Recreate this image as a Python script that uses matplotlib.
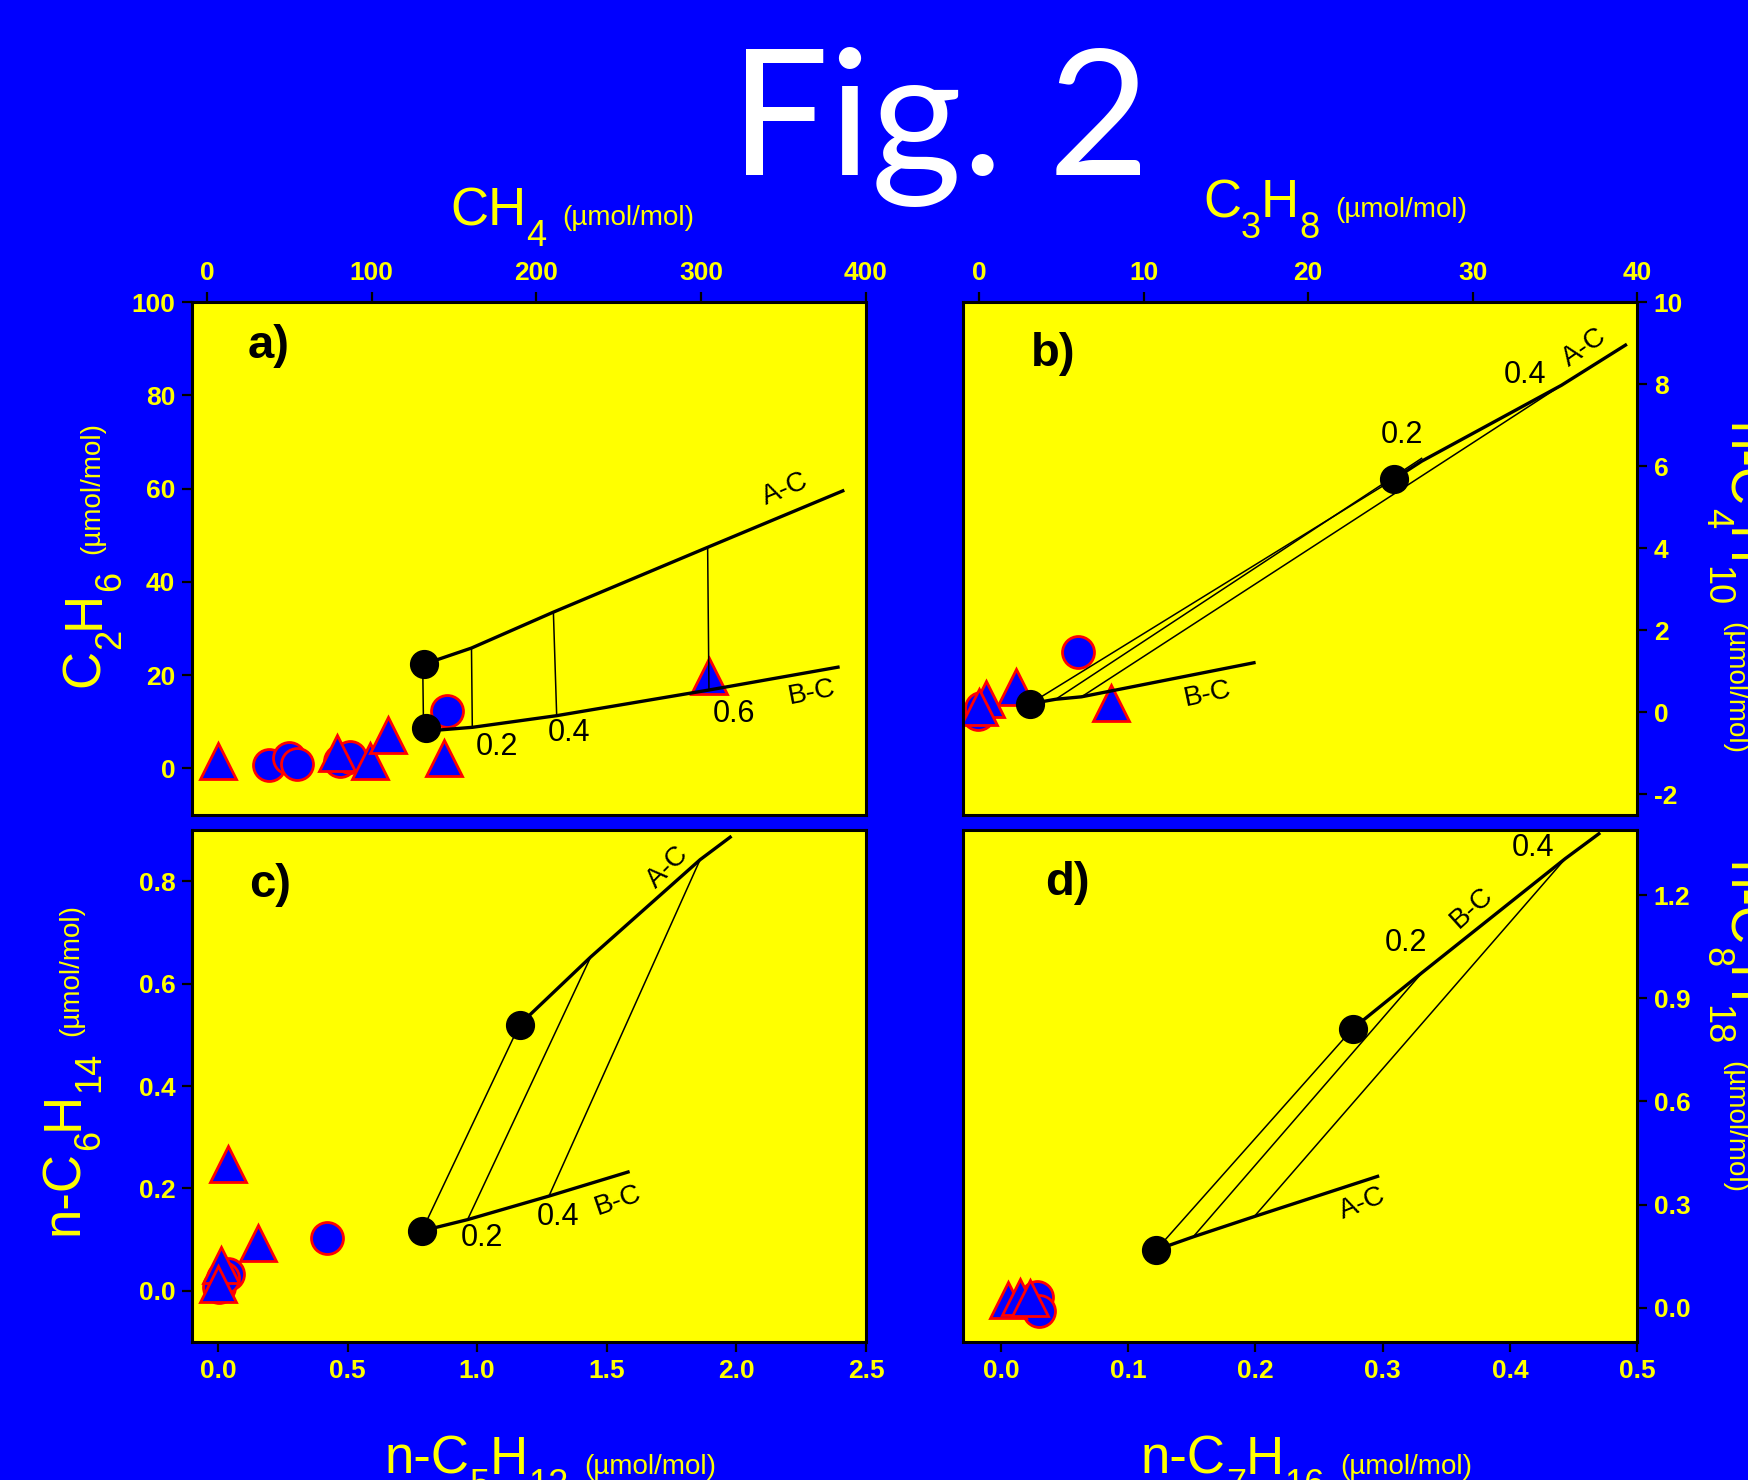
import matplotlib
matplotlib.use("Agg")
import matplotlib.pyplot as plt
from matplotlib.ticker import FixedLocator, FormatStrFormatter

# ---------------- data ----------------
# panel a : CH4 (x) vs C2H6 (y)
a_circ_x = [38, 50, 55, 81, 87, 146]
a_circ_y = [0.8, 2.3, 1.0, 1.5, 2.5, 12.3]
a_tri_x = [7, 79, 99, 110, 144, 305]
a_tri_y = [1.5, 3.4, 1.5, 7.1, 2.3, 19.9]
a_end_x = [131.5, 133.0]
a_end_y = [22.3, 8.6]
a_ac_x = [131.5, 160.6, 210.3, 303.9, 385.9]
a_ac_y = [22.3, 25.8, 33.5, 47.4, 59.5]
a_bc_x = [133.0, 161.1, 212.3, 304.7, 383.0]
a_bc_y = [8.0, 8.8, 11.3, 16.8, 21.7]
a_tie_x1 = [131.0, 160.6, 210.3, 303.9]
a_tie_y1 = [22.3, 25.8, 33.5, 47.4]
a_tie_x2 = [131.5, 161.1, 212.3, 304.7]
a_tie_y2 = [8.6, 8.8, 11.3, 16.8]
a_lab = ["0.2", "0.4", "0.6"]
a_lab_x = [176, 220, 320]
a_lab_y = [4.5, 7.5, 11.7]

# panel b : C3H8 (x) vs n-C4H10 (y)
b_circ_x = [6.0, -0.1, 0.1]
b_circ_y = [1.47, -0.05, 0.1]
b_tri_x = [2.2, 0.4, 0.0, 8.0]
b_tri_y = [0.62, 0.32, 0.12, 0.23]
b_end_x = [25.2, 3.07]
b_end_y = [5.68, 0.21]
b_ac_x = [25.2, 26.9, 35.4, 39.3]
b_ac_y = [5.68, 6.12, 7.97, 8.95]
b_bc_x = [3.07, 4.64, 6.21, 16.7]
b_bc_y = [0.21, 0.32, 0.38, 1.21]
b_tie_x1 = [3.07, 4.64, 6.21]
b_tie_y1 = [0.21, 0.32, 0.38]
b_tie_x2 = [25.2, 26.9, 35.4]
b_tie_y2 = [5.68, 6.19, 7.97]
b_lab = ["0.2", "0.4"]
b_lab_x = [25.7, 33.2]
b_lab_y = [6.77, 8.22]

# panel c : n-C5H12 (x) vs n-C6H14 (y)
c_circ_x = [0.421, 0.04, 0.004, 0.02]
c_circ_y = [0.104, 0.032, 0.007, 0.025]
c_tri_x = [0.039, 0.156, 0.013, 0.0]
c_tri_y = [0.248, 0.094, 0.05, 0.014]
c_end_x = [1.164, 0.787]
c_end_y = [0.520, 0.117]
c_ac_x = [1.164, 1.438, 1.860, 1.976]
c_ac_y = [0.520, 0.652, 0.842, 0.886]
c_bc_x = [0.787, 0.963, 1.277, 1.582]
c_bc_y = [0.117, 0.139, 0.185, 0.232]
c_tie_x1 = [0.787, 0.963, 1.277]
c_tie_y1 = [0.117, 0.139, 0.185]
c_tie_x2 = [1.164, 1.438, 1.860]
c_tie_y2 = [0.520, 0.652, 0.842]
c_lab = ["0.2", "0.4"]
c_lab_x = [1.017, 1.313]
c_lab_y = [0.104, 0.144]

# panel d : n-C7H16 (x) vs n-C8H18 (y)
d_circ_x = [0.028, 0.030]
d_circ_y = [0.032, -0.011]
d_tri_x = [0.005, 0.015, 0.023]
d_tri_y = [0.022, 0.032, 0.027]
d_end_x = [0.1219, 0.2765]
d_end_y = [0.168, 0.812]
d_ac_x = [0.1219, 0.151, 0.199, 0.296]
d_ac_y = [0.168, 0.206, 0.265, 0.382]
d_bc_x = [0.2765, 0.331, 0.4437, 0.470]
d_bc_y = [0.812, 0.975, 1.307, 1.379]
d_tie_x1 = [0.1219, 0.151, 0.199]
d_tie_y1 = [0.168, 0.206, 0.265]
d_tie_x2 = [0.2765, 0.331, 0.4437]
d_tie_y2 = [0.812, 0.975, 1.307]
d_lab = ["0.2", "0.4"]
d_lab_x = [0.318, 0.418]
d_lab_y = [1.061, 1.338]

a_xticks = [0, 100, 200, 300, 400]
a_yticks = [0, 20, 40, 60, 80, 100]
b_xticks = [0, 10, 20, 30, 40]
b_yticks = [-2, 0, 2, 4, 6, 8, 10]
c_xticks = [0.0, 0.5, 1.0, 1.5, 2.0, 2.5]
c_yticks = [0.0, 0.2, 0.4, 0.6, 0.8]
d_xticks = [0.0, 0.1, 0.2, 0.3, 0.4, 0.5]
d_yticks = [0.0, 0.3, 0.6, 0.9, 1.2]

# axis-label pieces: (text, is_subscript)
lab_top_a = [("CH", 0), ("4", 1)]
lab_top_b = [("C", 0), ("3", 1), ("H", 0), ("8", 1)]
lab_left_a = [("C", 0), ("2", 1), ("H", 0), ("6", 1)]
lab_left_c = [("n-C", 0), ("6", 1), ("H", 0), ("14", 1)]
lab_right_b = [("n-C", 0), ("4", 1), ("H", 0), ("10", 1)]
lab_right_d = [("n-C", 0), ("8", 1), ("H", 0), ("18", 1)]
lab_bot_c = [("n-C", 0), ("5", 1), ("H", 0), ("12", 1)]
lab_bot_d = [("n-C", 0), ("7", 1), ("H", 0), ("16", 1)]
unit_text = "(\u00b5mol/mol)"

# ---------------- style ----------------
BLUE = "#0000FF"
YEL = "#FFFF00"
RED = "#FF0000"
plt.rcParams["font.family"] = ["Liberation Sans", "DejaVu Sans"]
plt.rcParams["axes.unicode_minus"] = False

fig = plt.figure(figsize=(17.49, 14.8), dpi=100, facecolor=BLUE)
W, H = 1749.0, 1480.0


def box(l, t, r, b):
    return [l / W, 1 - b / H, (r - l) / W, (b - t) / H]


ax_a = fig.add_axes(box(192, 302, 866, 815))
ax_b = fig.add_axes(box(963, 302, 1637, 815))
ax_c = fig.add_axes(box(192, 830, 866, 1342))
ax_d = fig.add_axes(box(963, 830, 1637, 1342))


def style(ax, xlim, ylim, xt, yt, xside, yside, fmtx=None, fmty=None):
    ax.set_facecolor(YEL)
    ax.set_xlim(*xlim)
    ax.set_ylim(*ylim)
    for s in ax.spines.values():
        s.set_linewidth(2.2)
        s.set_color("black")
    ax.xaxis.set_major_locator(FixedLocator(xt))
    ax.yaxis.set_major_locator(FixedLocator(yt))
    if fmtx:
        ax.xaxis.set_major_formatter(FormatStrFormatter(fmtx))
    if fmty:
        ax.yaxis.set_major_formatter(FormatStrFormatter(fmty))
    ax.xaxis.set_ticks_position(xside)
    ax.yaxis.set_ticks_position(yside)
    ax.tick_params(direction="out", length=7, width=1.6, color="black",
                   labelcolor=YEL, labelsize=19, pad=5)
    for lab in ax.get_xticklabels() + ax.get_yticklabels():
        lab.set_fontweight("bold")


style(ax_a, (-9, 400), (-10, 100), a_xticks, a_yticks, "top", "left")
style(ax_b, (-1, 40), (-2.5, 10), b_xticks, b_yticks, "top", "right")
style(ax_c, (-0.1, 2.5), (-0.1, 0.9), c_xticks, c_yticks, "bottom", "left", "%.1f", "%.1f")
style(ax_d, (-0.03, 0.5), (-0.1, 1.39), d_xticks, d_yticks, "bottom", "right", "%.1f", "%.1f")


def draw(ax, cx, cy, tx, ty, ex, ey, acx, acy, bcx, bcy, t1x, t1y, t2x, t2y,
         labs, lx, ly):
    ax.plot(cx, cy, "o", ms=23, mfc=BLUE, mec=RED, mew=2, ls="none", zorder=2)
    ax.plot(tx, ty, "^", ms=26, mfc=BLUE, mec=RED, mew=2, ls="none", zorder=2)
    ax.plot(acx, acy, "-", color="black", lw=2.4, zorder=3)
    ax.plot(bcx, bcy, "-", color="black", lw=2.4, zorder=3)
    for i in range(len(t1x)):
        ax.plot([t1x[i], t2x[i]], [t1y[i], t2y[i]], "-", color="black",
                lw=1.1, zorder=3)
    ax.plot(ex, ey, "o", ms=20, color="black", ls="none", zorder=4)
    for s, x, y in zip(labs, lx, ly):
        ax.text(x, y, s, fontsize=22, ha="center", va="center", color="black",
                zorder=5)


draw(ax_a, a_circ_x, a_circ_y, a_tri_x, a_tri_y, a_end_x, a_end_y,
     a_ac_x, a_ac_y, a_bc_x, a_bc_y, a_tie_x1, a_tie_y1, a_tie_x2, a_tie_y2,
     a_lab, a_lab_x, a_lab_y)
draw(ax_b, b_circ_x, b_circ_y, b_tri_x, b_tri_y, b_end_x, b_end_y,
     b_ac_x, b_ac_y, b_bc_x, b_bc_y, b_tie_x1, b_tie_y1, b_tie_x2, b_tie_y2,
     b_lab, b_lab_x, b_lab_y)
draw(ax_c, c_circ_x, c_circ_y, c_tri_x, c_tri_y, c_end_x, c_end_y,
     c_ac_x, c_ac_y, c_bc_x, c_bc_y, c_tie_x1, c_tie_y1, c_tie_x2, c_tie_y2,
     c_lab, c_lab_x, c_lab_y)
draw(ax_d, d_circ_x, d_circ_y, d_tri_x, d_tri_y, d_end_x, d_end_y,
     d_ac_x, d_ac_y, d_bc_x, d_bc_y, d_tie_x1, d_tie_y1, d_tie_x2, d_tie_y2,
     d_lab, d_lab_x, d_lab_y)

# line names
ax_a.text(351, 59.8, "A-C", fontsize=20, rotation=23, ha="center", va="center")
ax_a.text(367, 16.2, "B-C", fontsize=20, rotation=11, ha="center", va="center")
ax_b.text(36.8, 8.9, "A-C", fontsize=20, rotation=35, ha="center", va="center")
ax_b.text(13.9, 0.44, "B-C", fontsize=20, rotation=12, ha="center", va="center")
ax_c.text(1.734, 0.828, "A-C", fontsize=20, rotation=45, ha="center", va="center")
ax_c.text(1.542, 0.176, "B-C", fontsize=20, rotation=19, ha="center", va="center")
ax_d.text(0.370, 1.164, "B-C", fontsize=20, rotation=42, ha="center", va="center")
ax_d.text(0.284, 0.303, "A-C", fontsize=20, rotation=22, ha="center", va="center")

# panel letters
ax_a.text(37.6, 90.6, "a)", fontsize=34, fontweight="bold", ha="center", va="center")
ax_b.text(4.49, 8.73, "b)", fontsize=34, fontweight="bold", ha="center", va="center")
ax_c.text(0.20, 0.792, "c)", fontsize=34, fontweight="bold", ha="center", va="center")
ax_d.text(0.052, 1.235, "d)", fontsize=34, fontweight="bold", ha="center", va="center")

# title
fig.text(940 / W, 1 - 175 / H, "Fig. 2", fontsize=126, color="white",
         family=["Lato", "DejaVu Sans"], ha="center", va="baseline")

# ---------------- axis labels built piece by piece ----------------
BIG = 38
SUB = 26
UNIT = 20
DROP = 21      # subscript baseline drop, px
UGAP = 16      # gap before units, px
renderer = fig.canvas.get_renderer()


def label(x, y, pieces, rot=0):
    """x, y: start of label baseline in image pixels (origin top-left)."""
    X, Y = x, H - y
    pos = X if rot == 0 else Y
    items = [(s, SUB if sub else BIG, DROP if sub else 0, 0) for s, sub in pieces]
    items.append((unit_text, UNIT, 0, UGAP))
    for s, size, drop, gap in items:
        if rot == 0:
            pos += gap
            tx, ty = pos, Y - drop
        elif rot == 90:
            pos += gap
            tx, ty = X + drop, pos
        else:
            pos -= gap
            tx, ty = X - drop, pos
        t = fig.text(tx / W, ty / H, s, fontsize=size, color=YEL, rotation=rot,
                     rotation_mode="anchor", ha="left", va="baseline")
        bb = t.get_window_extent(renderer)
        if rot == 0:
            pos = bb.x1
        elif rot == 90:
            pos = bb.y1
        else:
            pos = bb.y0


label(450, 225, lab_top_a)
label(1203, 217, lab_top_b)
label(99, 687, lab_left_a, 90)
label(78, 1235, lab_left_c, 90)
label(1727, 423, lab_right_b, -90)
label(1727, 862, lab_right_d, -90)
label(385, 1474, lab_bot_c)
label(1141, 1474, lab_bot_d)

fig.savefig("out.png", dpi=100, facecolor=BLUE)
